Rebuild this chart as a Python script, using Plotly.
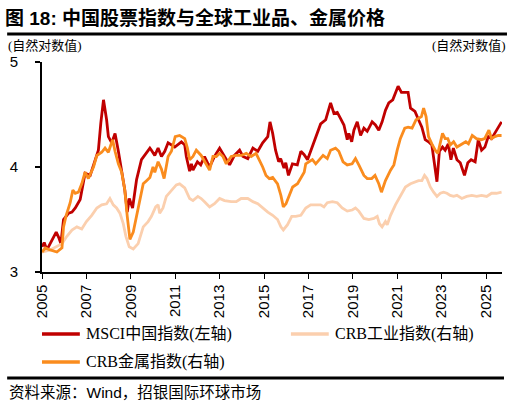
import plotly.graph_objects as go

# MSCI中国指数 (左轴), 自然对数值
msci_x = [2005.00, 2005.10, 2005.22, 2005.45, 2005.64, 2005.75, 2005.85, 2005.97, 2006.20, 2006.35,
          2006.50, 2006.72, 2006.94, 2007.17, 2007.39, 2007.54, 2007.65, 2007.77, 2007.91, 2007.99,
          2008.14, 2008.29, 2008.44, 2008.59, 2008.73, 2008.84, 2008.93, 2009.08, 2009.26, 2009.48,
          2009.63, 2009.86, 2009.93, 2010.08, 2010.23, 2010.38, 2010.53, 2010.68, 2010.98, 2011.12,
          2011.28, 2011.43, 2011.50, 2011.65, 2011.73, 2011.80, 2012.00, 2012.15, 2012.32, 2012.55,
          2012.77, 2013.00, 2013.22, 2013.45, 2013.67, 2013.90, 2014.05, 2014.27, 2014.50, 2014.72,
          2014.94, 2015.17, 2015.27, 2015.39, 2015.52, 2015.66, 2015.75, 2015.90, 2015.98, 2016.10,
          2016.28, 2016.50, 2016.66, 2016.80, 2016.96, 2017.10, 2017.33, 2017.55, 2017.78, 2018.00,
          2018.15, 2018.30, 2018.45, 2018.60, 2018.75, 2018.82, 2018.95, 2019.05, 2019.20, 2019.35,
          2019.50, 2019.65, 2019.87, 2020.02, 2020.17, 2020.32, 2020.47, 2020.62, 2020.80, 2021.04,
          2021.19, 2021.34, 2021.49, 2021.60, 2021.80, 2021.96, 2022.11, 2022.26, 2022.41, 2022.56,
          2022.71, 2022.79, 2022.90, 2023.04, 2023.16, 2023.30, 2023.42, 2023.53, 2023.69, 2023.84,
          2024.03, 2024.18, 2024.33, 2024.51, 2024.65, 2024.80, 2024.95, 2025.10, 2025.25, 2025.47,
          2025.70]
msci_y = [3.24, 3.28, 3.21, 3.30, 3.38, 3.33, 3.27, 3.50, 3.56, 3.57,
          3.61, 3.69, 3.94, 3.92, 4.07, 4.16, 4.42, 4.64, 4.45, 4.29,
          4.23, 4.32, 4.15, 3.94, 3.78, 3.57, 3.70, 3.61, 3.88, 4.07,
          4.11, 4.18, 4.16, 4.11, 4.18, 4.10, 4.15, 4.23, 4.19, 4.21,
          4.24, 4.21, 4.10, 3.96, 4.03, 3.97, 4.05, 4.02, 4.10, 4.00,
          4.10, 4.18, 4.10, 4.02, 4.11, 4.16, 4.10, 4.08, 4.18, 4.15,
          4.23, 4.29, 4.43, 4.32, 4.16, 4.05, 4.08, 3.99, 4.04, 3.92,
          4.03, 4.02, 4.15, 4.12, 4.07, 4.15, 4.27, 4.41, 4.45, 4.61,
          4.51, 4.52, 4.46, 4.40, 4.26, 4.32, 4.24, 4.35, 4.43, 4.30,
          4.37, 4.34, 4.43, 4.40, 4.35, 4.43, 4.54, 4.61, 4.64, 4.77,
          4.71, 4.71, 4.71, 4.56, 4.53, 4.45, 4.38, 4.26, 4.24, 4.21,
          4.00, 3.86, 4.15, 4.19, 4.16, 4.22, 4.07, 4.18, 4.07, 4.04,
          3.92, 4.04, 4.07, 4.05, 4.26, 4.16, 4.19, 4.29, 4.27, 4.35,
          4.43]

# CRB工业指数 (右轴)
ind_x = [2005.00, 2005.37, 2005.90, 2006.12, 2006.35, 2006.57, 2006.79, 2007.00, 2007.24, 2007.47,
         2007.69, 2007.91, 2008.06, 2008.21, 2008.36, 2008.51, 2008.66, 2008.78, 2008.93, 2009.11,
         2009.33, 2009.56, 2009.78, 2009.93, 2010.12, 2010.23, 2010.30, 2010.45, 2010.60, 2010.83,
         2011.05, 2011.20, 2011.43, 2011.65, 2011.80, 2012.02, 2012.17, 2012.32, 2012.55, 2012.77,
         2013.00, 2013.22, 2013.52, 2013.75, 2013.97, 2014.27, 2014.50, 2014.72, 2014.94, 2015.17,
         2015.39, 2015.61, 2015.76, 2015.87, 2016.06, 2016.25, 2016.43, 2016.66, 2016.88, 2017.10,
         2017.33, 2017.55, 2017.70, 2017.85, 2018.08, 2018.30, 2018.52, 2018.75, 2018.97, 2019.12,
         2019.27, 2019.50, 2019.72, 2019.95, 2020.10, 2020.20, 2020.32, 2020.47, 2020.55, 2020.70,
         2020.92, 2021.14, 2021.37, 2021.60, 2021.82, 2021.96, 2022.11, 2022.23, 2022.34, 2022.49,
         2022.64, 2022.79, 2022.94, 2023.09, 2023.24, 2023.39, 2023.54, 2023.69, 2023.91, 2024.13,
         2024.36, 2024.58, 2024.80, 2025.03, 2025.25, 2025.47, 2025.70]
ind_y = [3.19, 3.21, 3.27, 3.34, 3.40, 3.43, 3.41, 3.48, 3.54, 3.61,
         3.64, 3.65, 3.70, 3.64, 3.61, 3.56, 3.46, 3.34, 3.24, 3.22,
         3.27, 3.43, 3.48, 3.53, 3.62, 3.64, 3.56, 3.61, 3.72, 3.78,
         3.83, 3.84, 3.80, 3.70, 3.68, 3.72, 3.70, 3.67, 3.62, 3.65,
         3.70, 3.68, 3.67, 3.67, 3.70, 3.70, 3.67, 3.65, 3.61, 3.57,
         3.54, 3.50, 3.43, 3.40, 3.45, 3.53, 3.53, 3.54, 3.61, 3.64,
         3.64, 3.64, 3.62, 3.66, 3.67, 3.66, 3.61, 3.58, 3.59, 3.61,
         3.58, 3.51, 3.50, 3.51, 3.53, 3.46, 3.43, 3.48, 3.45, 3.54,
         3.64, 3.72, 3.81, 3.84, 3.86, 3.87, 3.87, 3.92, 3.89, 3.81,
         3.76, 3.72, 3.75, 3.76, 3.75, 3.73, 3.72, 3.73, 3.70, 3.72,
         3.73, 3.72, 3.73, 3.72, 3.75, 3.75, 3.76]

# CRB金属指数 (右轴)
met_x = [2005.00, 2005.15, 2005.37, 2005.67, 2005.90, 2005.97, 2006.09, 2006.27, 2006.39, 2006.50,
         2006.64, 2006.79, 2006.94, 2007.09, 2007.32, 2007.47, 2007.69, 2007.84, 2007.99, 2008.18,
         2008.29, 2008.44, 2008.59, 2008.73, 2008.84, 2008.96, 2009.11, 2009.26, 2009.41, 2009.56,
         2009.71, 2009.86, 2010.00, 2010.08, 2010.23, 2010.38, 2010.50, 2010.68, 2010.83, 2011.00,
         2011.20, 2011.43, 2011.55, 2011.65, 2011.80, 2011.95, 2012.17, 2012.40, 2012.55, 2012.70,
         2012.85, 2013.00, 2013.15, 2013.30, 2013.52, 2013.75, 2013.97, 2014.20, 2014.42, 2014.64,
         2014.79, 2014.94, 2015.09, 2015.24, 2015.39, 2015.61, 2015.76, 2015.87, 2015.99, 2016.14,
         2016.29, 2016.51, 2016.66, 2016.81, 2016.88, 2017.03, 2017.18, 2017.33, 2017.48, 2017.66,
         2017.85, 2018.00, 2018.22, 2018.37, 2018.56, 2018.75, 2018.97, 2019.12, 2019.27, 2019.50,
         2019.65, 2019.85, 2020.00, 2020.17, 2020.29, 2020.47, 2020.70, 2020.85, 2021.00, 2021.14,
         2021.34, 2021.49, 2021.67, 2021.85, 2022.09, 2022.19, 2022.30, 2022.41, 2022.56, 2022.71,
         2022.83, 2022.94, 2023.04, 2023.16, 2023.28, 2023.39, 2023.54, 2023.69, 2023.91, 2024.09,
         2024.21, 2024.38, 2024.57, 2024.79, 2024.94, 2025.13, 2025.25, 2025.40, 2025.55, 2025.70]
met_y = [3.19, 3.23, 3.21, 3.19, 3.23, 3.43, 3.54, 3.66, 3.78, 3.75,
         3.76, 3.84, 3.95, 3.89, 4.00, 4.11, 4.14, 4.18, 4.14, 4.26,
         4.15, 4.03, 3.95, 3.78, 3.53, 3.31, 3.38, 3.53, 3.69, 3.84,
         3.87, 3.90, 4.00, 3.95, 4.05, 3.98, 3.89, 4.10, 4.15, 4.29,
         4.30, 4.27, 4.18, 4.07, 4.10, 4.16, 4.11, 4.02, 3.97, 4.10,
         4.10, 4.13, 4.10, 4.03, 4.10, 4.11, 4.11, 4.13, 4.10, 4.13,
         4.07, 4.00, 3.92, 3.89, 3.90, 3.84, 3.73, 3.62, 3.65, 3.73,
         3.81, 3.84, 3.89, 3.95, 4.03, 4.05, 4.07, 4.03, 4.07, 4.11,
         4.08, 4.16, 4.18, 4.15, 4.05, 4.02, 4.03, 4.08, 4.02, 3.92,
         3.89, 3.89, 3.92, 3.84, 3.76, 3.87, 3.97, 4.02, 4.16, 4.27,
         4.37, 4.38, 4.37, 4.45, 4.48, 4.56, 4.48, 4.29, 4.22, 4.16,
         4.13, 4.24, 4.32, 4.27, 4.27, 4.21, 4.24, 4.19, 4.22, 4.24,
         4.22, 4.30, 4.27, 4.26, 4.27, 4.35, 4.27, 4.29, 4.30, 4.30]

year_ticks = list(range(2005, 2026, 2))

names = ["MSCI中国指数(左轴)", "CRB工业指数(右轴)", "CRB金属指数(右轴)"]
colors = ["#C00000", "#FBCFAE", "#FA8C1E"]

W, H = 512, 410
L, R, T, B = 40, 10, 62, 138
pw, ph = W - L - R, H - T - B


def px(x):
    return (x - L) / pw


def py(y):
    return (H - B - y) / ph


serif = "Liberation Serif, Noto Sans CJK SC"
sans = "Liberation Sans, Noto Sans CJK SC"

fig = go.Figure()
fig.add_trace(go.Scatter(x=msci_x, y=msci_y, mode="lines", name=names[0],
                         line=dict(color=colors[0], width=2.8)))
fig.add_trace(go.Scatter(x=ind_x, y=ind_y, mode="lines", name=names[1], yaxis="y2",
                         line=dict(color=colors[1], width=2.8)))
fig.add_trace(go.Scatter(x=met_x, y=met_y, mode="lines", name=names[2], yaxis="y2",
                         line=dict(color=colors[2], width=2.8)))

fig.update_layout(
    width=W, height=H,
    margin=dict(l=L, r=R, t=T, b=B),
    paper_bgcolor="white", plot_bgcolor="white",
    showlegend=False,
    xaxis=dict(range=[2005, 2025.72], tickvals=year_ticks, ticktext=[str(t) for t in year_ticks],
               tickangle=-90, ticks="outside", ticklen=5, tickcolor="black",
               showline=True, linecolor="black", linewidth=1.5, showgrid=False, zeroline=False,
               tickfont=dict(family=sans, size=15, color="black")),
    yaxis=dict(range=[3, 5], tickvals=[3, 4, 5], ticks="outside", ticklen=5, tickcolor="black",
               tickwidth=1.5, showline=True, linecolor="black", linewidth=2, showgrid=False,
               zeroline=False, ticklabelstandoff=14,
               tickfont=dict(family=sans, size=15, color="black")),
    yaxis2=dict(range=[3, 5], overlaying="y", side="right", showticklabels=False,
                showgrid=False, zeroline=False, showline=False),
)

# legend drawn by hand: two columns, wraps after the second entry
legend_pos = [(40, 334), (290, 334), (40, 362)]
for name, color, (lx, ly) in zip(names, colors, legend_pos):
    fig.add_shape(type="line", xref="paper", yref="paper", x0=px(lx), x1=px(lx + 38),
                  y0=py(ly), y1=py(ly), line=dict(color=color, width=3.5))
    fig.add_annotation(text=name, xref="paper", yref="paper", x=px(lx + 42), y=py(ly),
                       xanchor="left", yanchor="middle", showarrow=False,
                       font=dict(family=serif, size=16, color="black"))

fig.add_annotation(text="<b>图 18: 中国股票指数与全球工业品、金属价格</b>", xref="paper", yref="paper",
                   x=px(1), y=py(18), xanchor="left", yanchor="middle", showarrow=False,
                   font=dict(family=sans, size=19, color="black"))
fig.add_annotation(text="(自然对数值)", xref="paper", yref="paper", x=px(4), y=py(45),
                   xanchor="left", yanchor="middle", showarrow=False,
                   font=dict(family=serif, size=13, color="black"))
fig.add_annotation(text="(自然对数值)", xref="paper", yref="paper", x=px(508), y=py(45),
                   xanchor="right", yanchor="middle", showarrow=False,
                   font=dict(family=serif, size=13, color="black"))
fig.add_annotation(text="资料来源：Wind，招银国际环球市场", xref="paper", yref="paper",
                   x=px(5), y=py(392), xanchor="left", yanchor="middle", showarrow=False,
                   font=dict(family=sans, size=15.5, color="black"))

fig.add_shape(type="line", xref="paper", yref="paper", x0=px(5), x1=px(507), y0=py(34), y1=py(34),
              line=dict(color="black", width=3))
fig.add_shape(type="line", xref="paper", yref="paper", x0=px(5), x1=px(504), y0=py(378), y1=py(378),
              line=dict(color="black", width=3))

# the page body has a default 8px margin; drop it so the figure sits at the window's corner
fig.write_html("out.html", config={"displayModeBar": False},
               post_script="document.body.style.margin = '0';")
